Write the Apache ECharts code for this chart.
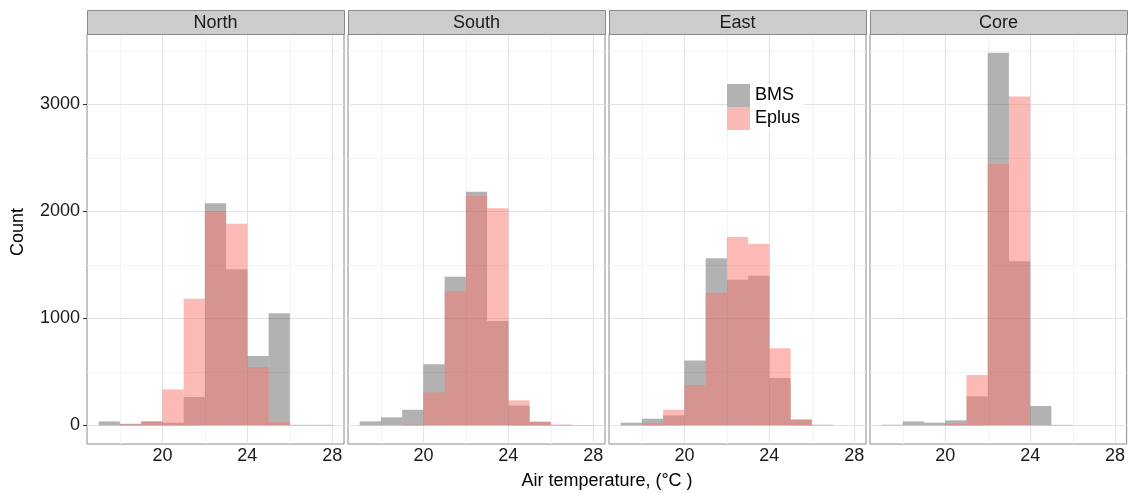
<!DOCTYPE html>
<html>
<head>
<meta charset="utf-8">
<script src="https://cdn.jsdelivr.net/npm/echarts@6/dist/echarts.min.js"></script>
<style>
  html, body { margin: 0; padding: 0; background: #ffffff; }
  #chart { width: 1128px; height: 493px; }
</style>
</head>
<body>
<div id="chart"></div>
<script>
// Histogram bins: 1 °C wide, starting at these temperatures
const binStarts = [17, 18, 19, 20, 21, 22, 23, 24, 25, 26, 27];
const binWidth = 1;

const facetNames = ['North', 'South', 'East', 'Core'];
const seriesNames = ['BMS', 'Eplus'];

// Counts per bin (BMS measurements vs EnergyPlus simulation)
const northBMS   = [37, 15, 35, 25, 265, 2075, 1458, 648, 1047, 5, 5];
const northEplus = [0, 10, 40, 336, 1184, 1997, 1885, 542, 31, 0, 0];
const southBMS   = [37, 75, 146, 570, 1389, 2184, 975, 185, 35, 3, 3];
const southEplus = [0, 0, 6, 308, 1252, 2143, 2028, 234, 30, 8, 0];
const eastBMS    = [25, 62, 93, 607, 1561, 1361, 1399, 442, 56, 6, 0];
const eastEplus  = [0, 20, 146, 377, 1240, 1760, 1695, 720, 50, 0, 0];
const coreBMS    = [6, 37, 25, 47, 271, 3483, 1533, 181, 5, 0, 0];
const coreEplus  = [0, 0, 0, 15, 470, 2442, 3072, 0, 0, 0, 0];

const xTickValues = [20, 24, 28];
const xMinorValues = [18, 22, 26];
const yTickValues = [0, 1000, 2000, 3000];
const yMinorValues = [500, 1500, 2500, 3500];

const facetData = [
  [northBMS, northEplus],
  [southBMS, southEplus],
  [eastBMS, eastEplus],
  [coreBMS, coreEplus]
];

// Layout
const panelLefts = [87, 348, 609, 870];
const panelWidth = 257;
const panelTop = 34;
const panelHeight = 410;
const stripTop = 10;

const colors = {
  BMS: 'rgba(0,0,0,0.3)',
  Eplus: 'rgba(248,118,109,0.5)'
};
const FONT = 'Liberation Sans, Arial, sans-serif';

// Axis ranges with 5% padding like the usual histogram layout
const xLo = binStarts[0];
const xHi = binStarts[binStarts.length - 1] + binWidth;
const xMin = xLo - 0.05 * (xHi - xLo);
const xMax = xHi + 0.05 * (xHi - xLo);
let yPeak = 0;
facetData.forEach(pair => pair.forEach(arr => arr.forEach(v => { if (v > yPeak) yPeak = v; })));
const yMin = -0.05 * yPeak;
const yMax = 1.05 * yPeak;

const chart = echarts.init(document.getElementById('chart'), null, { renderer: 'canvas' });

const grids = [], xAxes = [], yAxes = [], series = [], graphics = [];
const plainNumber = v => String(v);

facetNames.forEach((name, i) => {
  grids.push({
    left: panelLefts[i], top: panelTop, width: panelWidth, height: panelHeight,
    show: true, backgroundColor: '#ffffff', borderColor: '#8a8a8a', borderWidth: 1,
    containLabel: false
  });
  xAxes.push({
    type: 'value', gridIndex: i, min: xMin, max: xMax,
    splitLine: { show: false },
    axisLine: { show: false },
    axisTick: { show: true, length: 4, customValues: xTickValues, lineStyle: { color: '#333333' } },
    axisLabel: { show: true, customValues: xTickValues, formatter: plainNumber, margin: 3, fontSize: 18, color: '#1a1a1a', fontFamily: FONT }
  });
  yAxes.push({
    type: 'value', gridIndex: i, min: yMin, max: yMax,
    splitLine: { show: false },
    axisLine: { show: false },
    axisTick: { show: i === 0, length: 4, customValues: yTickValues, lineStyle: { color: '#333333' } },
    axisLabel: { show: i === 0, customValues: yTickValues, formatter: plainNumber, margin: 7, fontSize: 18, color: '#1a1a1a', fontFamily: FONT }
  });

  // Panel grid lines (major and minor), positioned through the axis scales
  const lineRows = [];
  xMinorValues.forEach(v => lineRows.push([v, 1, 0]));
  yMinorValues.forEach(v => lineRows.push([v, 0, 0]));
  xTickValues.forEach(v => lineRows.push([v, 1, 1]));
  yTickValues.forEach(v => lineRows.push([v, 0, 1]));
  series.push({
    type: 'custom', name: 'grid-' + name, xAxisIndex: i, yAxisIndex: i,
    silent: true, z: 1, clip: true,
    data: lineRows,
    encode: { x: 0, y: 1 },
    renderItem: function (params, api) {
      const v = api.value(0), isX = api.value(1), major = api.value(2);
      const cs = params.coordSys;
      const stroke = major ? '#e2e2e2' : '#f3f3f3';
      if (isX) {
        const x = Math.round(api.coord([v, 0])[0]) + 0.5;
        return { type: 'line', shape: { x1: x, y1: cs.y, x2: x, y2: cs.y + cs.height }, style: { stroke: stroke, lineWidth: 1 } };
      }
      const y = Math.round(api.coord([xMin, v])[1]) + 0.5;
      return { type: 'line', shape: { x1: cs.x, y1: y, x2: cs.x + cs.width, y2: y }, style: { stroke: stroke, lineWidth: 1 } };
    }
  });

  // Overlaid histograms
  seriesNames.forEach((sName, k) => {
    const counts = facetData[i][k];
    series.push({
      type: 'custom', name: sName, xAxisIndex: i, yAxisIndex: i,
      z: 2 + k, silent: true,
      itemStyle: { color: colors[sName] },
      data: binStarts.map((b, j) => [b, b + binWidth, counts[j]]),
      encode: { x: [0, 1], y: 2 },
      renderItem: function (params, api) {
        const c = api.value(2);
        if (!c) return null;
        const p0 = api.coord([api.value(0), c]);
        const p1 = api.coord([api.value(1), 0]);
        return {
          type: 'rect',
          shape: { x: p0[0], y: p0[1], width: p1[0] - p0[0], height: p1[1] - p0[1] },
          style: { fill: api.visual('color') }
        };
      }
    });
  });

  // Facet strip
  graphics.push({
    type: 'rect', z: 10,
    shape: { x: panelLefts[i] + 0.5, y: stripTop + 0.5, width: panelWidth, height: panelTop - stripTop },
    style: { fill: '#cccccc', stroke: '#8a8a8a', lineWidth: 1 }
  });
  graphics.push({
    type: 'text', z: 11,
    x: panelLefts[i] + panelWidth / 2, y: (stripTop + panelTop) / 2 + 1,
    style: { text: name, fill: '#1a1a1a', font: '18px ' + FONT, textAlign: 'center', textVerticalAlign: 'middle' }
  });
});

// Axis titles
graphics.push({
  type: 'text', x: 607, y: 481,
  style: { text: 'Air temperature, (°C )', fill: '#000000', font: '18px ' + FONT, textAlign: 'center', textVerticalAlign: 'middle' }
});
graphics.push({
  type: 'text', x: 18, y: 232, rotation: Math.PI / 2,
  style: { text: 'Count', fill: '#000000', font: '18px ' + FONT, textAlign: 'center', textVerticalAlign: 'middle' }
});

chart.setOption({
  animation: false,
  backgroundColor: '#ffffff',
  grid: grids,
  xAxis: xAxes,
  yAxis: yAxes,
  legend: {
    data: seriesNames,
    orient: 'vertical',
    left: 727, top: 84,
    itemWidth: 23, itemHeight: 23, itemGap: 0,
    icon: 'rect',
    selectedMode: false,
    backgroundColor: '#ffffff',
    padding: [0, 4, 0, 0],
    textStyle: { fontSize: 18, color: '#000000', fontFamily: FONT }
  },
  graphic: graphics,
  series: series
});
</script>
</body>
</html>
